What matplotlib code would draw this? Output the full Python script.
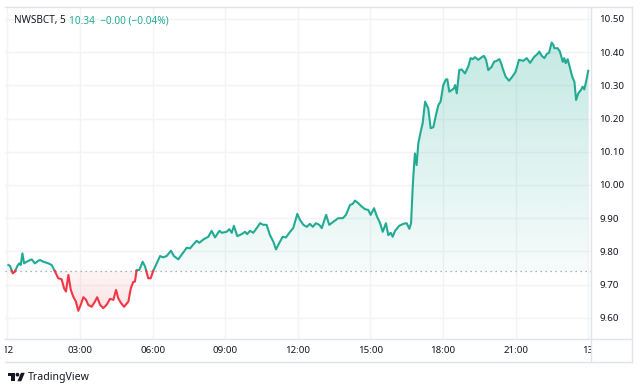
import numpy as np
import matplotlib
matplotlib.use("Agg")
import matplotlib.pyplot as plt
from matplotlib.path import Path
from matplotlib.patches import Polygon, Circle
from matplotlib.lines import Line2D

# ---------------- data ----------------
hours = [0.04, 0.11, 0.22, 0.31, 0.41, 0.49, 0.55, 0.62, 0.69, 0.80, 1.00, 1.14, 1.28, 1.35, 1.48,
         1.69, 1.83, 1.97, 2.10, 2.24, 2.34, 2.42, 2.52, 2.62, 2.72, 2.83, 2.93, 3.03, 3.14, 3.25,
         3.34, 3.48, 3.62, 3.71, 3.83, 3.96, 4.10, 4.24, 4.38, 4.49, 4.58, 4.69, 4.82, 5.00, 5.10,
         5.20, 5.27, 5.34, 5.45, 5.59, 5.69, 5.82, 5.92, 6.03, 6.17, 6.31, 6.44, 6.58, 6.76, 6.88,
         7.06, 7.24, 7.41, 7.55, 7.66, 7.82, 7.93, 8.10, 8.17, 8.30, 8.44, 8.58, 8.76, 8.86, 9.06,
         9.17, 9.27, 9.36, 9.50, 9.68, 9.82, 9.91, 10.02, 10.16, 10.33, 10.44, 10.57, 10.71, 10.85,
         10.99, 11.10, 11.26, 11.38, 11.51, 11.68, 11.81, 11.98, 12.09, 12.23, 12.37, 12.50, 12.62,
         12.75, 12.89, 12.99, 13.17, 13.30, 13.47, 13.67, 13.86, 13.99, 14.16, 14.27, 14.36, 14.50,
         14.64, 14.78, 14.91, 15.01, 15.15, 15.26, 15.40, 15.51, 15.64, 15.74, 15.84, 15.92, 16.02,
         16.19, 16.36, 16.50, 16.61, 16.68, 16.75, 16.80, 16.84, 16.91, 16.98, 17.08, 17.16, 17.26,
         17.39, 17.49, 17.60, 17.71, 17.81, 17.90, 18.01, 18.12, 18.18, 18.26, 18.36, 18.45, 18.50,
         18.57, 18.67, 18.77, 18.91, 19.05, 19.14, 19.23, 19.32, 19.46, 19.60, 19.69, 19.78, 19.87,
         20.01, 20.11, 20.22, 20.33, 20.40, 20.49, 20.59, 20.73, 20.86, 21.00, 21.14, 21.32, 21.46,
         21.60, 21.77, 21.91, 21.98, 22.08, 22.19, 22.29, 22.38, 22.49, 22.56, 22.60, 22.74, 22.83,
         22.95, 23.01, 23.07, 23.15, 23.25, 23.34, 23.43, 23.50, 23.59, 23.70, 23.77, 23.84, 23.94,
         24.00]
prices = [9.759, 9.756, 9.734, 9.739, 9.756, 9.764, 9.759, 9.794, 9.764, 9.769, 9.776, 9.764, 9.772,
          9.774, 9.769, 9.764, 9.759, 9.739, 9.719, 9.716, 9.689, 9.679, 9.729, 9.684, 9.664, 9.649,
          9.621, 9.639, 9.662, 9.654, 9.639, 9.633, 9.649, 9.662, 9.639, 9.629, 9.639, 9.657, 9.654,
          9.684, 9.659, 9.645, 9.633, 9.649, 9.689, 9.708, 9.709, 9.744, 9.744, 9.769, 9.754, 9.719,
          9.719, 9.742, 9.764, 9.786, 9.782, 9.786, 9.802, 9.786, 9.776, 9.794, 9.811, 9.809, 9.819,
          9.832, 9.826, 9.836, 9.839, 9.844, 9.862, 9.842, 9.862, 9.856, 9.859, 9.867, 9.856, 9.877,
          9.846, 9.852, 9.859, 9.852, 9.862, 9.856, 9.873, 9.885, 9.880, 9.880, 9.849, 9.829, 9.806,
          9.829, 9.844, 9.842, 9.859, 9.870, 9.913, 9.895, 9.880, 9.874, 9.883, 9.874, 9.885, 9.880,
          9.870, 9.910, 9.880, 9.889, 9.900, 9.900, 9.910, 9.940, 9.943, 9.953, 9.945, 9.935, 9.927,
          9.925, 9.910, 9.930, 9.907, 9.885, 9.859, 9.885, 9.849, 9.856, 9.844, 9.862, 9.877, 9.883,
          9.885, 9.868, 9.885, 9.995, 10.055, 10.095, 10.060, 10.126, 10.161, 10.186, 10.251, 10.231,
          10.171, 10.174, 10.211, 10.241, 10.251, 10.301, 10.318, 10.318, 10.281, 10.286, 10.291,
          10.301, 10.276, 10.346, 10.348, 10.336, 10.358, 10.382, 10.379, 10.385, 10.377, 10.385,
          10.389, 10.377, 10.346, 10.356, 10.371, 10.374, 10.379, 10.367, 10.346, 10.326, 10.314,
          10.326, 10.341, 10.377, 10.374, 10.382, 10.368, 10.386, 10.395, 10.402, 10.389, 10.382,
          10.395, 10.398, 10.429, 10.422, 10.412, 10.412, 10.402, 10.371, 10.382, 10.367, 10.379,
          10.352, 10.326, 10.311, 10.256, 10.276, 10.286, 10.296, 10.288, 10.321, 10.344]
baseline = 9.741
price_ticks = [9.60, 9.70, 9.80, 9.90, 10.00, 10.10, 10.20, 10.30, 10.40, 10.50]
time_ticks = [0, 3, 6, 9, 12, 15, 18, 21, 24]
time_labels = ["12", "03:00", "06:00", "09:00", "12:00", "15:00", "18:00", "21:00", "13"]
symbol_text = "NWSBCT, 5"
quote_text = "10.34  \u22120.00 (\u22120.04%)"
brand_text = "TradingView"

# ---------------- style ----------------
GREEN = "#22ab94"
RED = "#f23645"
TEXT = "#131722"
GRID = "#f2f3f6"
BORDER = "#e0e3eb"
FONT = ["Noto Sans", "DejaVu Sans"]
plt.rcParams['font.family'] = FONT

W, H = 640, 391
fig = plt.figure(figsize=(W / 100, H / 100), dpi=100)
fig.patch.set_facecolor("white")

def fx(px):
    return px / W

def fy(py):
    return 1 - py / H

L, R, T, B = 5, 590.5, 7.3, 338.5
ax = fig.add_axes([fx(L), fy(B), fx(R) - fx(L), fy(T) - fy(B)])
x0 = (L - 7.4) / 24.2
x1 = (R - 7.4) / 24.2
y0 = 10.5572 - B / 332
y1 = 10.5572 - T / 332

# insert baseline crossing points so colours switch exactly at baseline
t = np.array(hours, dtype=float)
p = np.array(prices, dtype=float)
tt, pp = [t[0]], [p[0]]
for i in range(1, len(t)):
    a, b = p[i - 1] - baseline, p[i] - baseline
    if a * b < 0:
        f = a / (a - b)
        tt.append(t[i - 1] + f * (t[i] - t[i - 1]))
        pp.append(baseline)
    tt.append(t[i])
    pp.append(p[i])
tt = np.array(tt)
pp = np.array(pp)

# gradient fills
def grad_fill(where, ylo, yhi, rgb, a_lo, a_hi):
    poly = ax.fill_between(tt, pp, baseline, where=where, interpolate=True,
                           facecolor="none", edgecolor="none")
    paths = poly.get_paths()
    poly.remove()
    if not paths:
        return
    clip = Path.make_compound_path(*paths)
    g = np.zeros((256, 1, 4))
    g[..., 0], g[..., 1], g[..., 2] = rgb
    g[:, 0, 3] = np.linspace(a_lo, a_hi, 256)
    im = ax.imshow(g, extent=[x0, x1, ylo, yhi], origin="lower", aspect="auto",
                   interpolation="bilinear", zorder=1)
    im.set_clip_path(clip, transform=ax.transData)

grad_fill(pp >= baseline, baseline, y1, (34 / 255, 171 / 255, 148 / 255), 0.04, 0.30)
grad_fill(pp <= baseline, y0, baseline, (242 / 255, 54 / 255, 69 / 255), 0.20, 0.05)

green = np.where(pp >= baseline, pp, np.nan)
red = np.where(pp <= baseline, pp, np.nan)
ax.plot(tt, green, color=GREEN, lw=1.5, zorder=3, solid_joinstyle="round")
ax.plot(tt, red, color=RED, lw=1.5, zorder=3, solid_joinstyle="round")
ax.axhline(baseline, color="#9598a1", lw=0.9, ls=(0, (1, 3)), zorder=2)

ax.set_xlim(x0, x1)
ax.set_ylim(y0, y1)
ax.set_xticks(time_ticks)
ax.set_yticks(price_ticks)
ax.grid(True, color=GRID, lw=1, zorder=0)
ax.set_axisbelow(True)
for s in ax.spines.values():
    s.set_visible(False)
ax.tick_params(axis="x", length=0, labelbottom=False)
ax.yaxis.tick_right()
ax.tick_params(axis="y", length=0, pad=6.3, labelsize=7, labelcolor=TEXT)
ax.set_yticklabels([f"{v:.2f}" for v in price_ticks])

# time axis strip (labels clipped at the pane edges)
tax = fig.add_axes([fx(L), fy(361.5), fx(R) - fx(L), fy(B) - fy(361.5)])
tax.set_xlim(x0, x1)
tax.set_ylim(0, 1)
tax.axis("off")
for tk, lab in zip(time_ticks, time_labels):
    tax.text(tk, 0.48, lab, ha="center", va="center", fontsize=7, color=TEXT, clip_on=True)

# frame lines
for (xa, ya, xb, yb) in [(L, T, 631.7, T), (L, B, 631.7, B), (L, 361.5, 631.7, 361.5),
                         (R, T, R, 361.5), (631.7, T, 631.7, 361.5)]:
    fig.add_artist(Line2D([fx(xa), fx(xb)], [fy(ya), fy(yb)], color=BORDER, lw=1))

# header
fig.text(fx(14.5), fy(21), symbol_text, fontsize=7.2, color=TEXT, va="center", ha="left")
fig.text(fx(69), fy(21), quote_text, fontsize=7.2, color=GREEN, va="center", ha="left")

# brand logo + text
lax = fig.add_axes([fx(8), fy(384.1), 17 / W, 13.2 / H])
lax.set_xlim(0, 36)
lax.set_ylim(28, 0)
lax.axis("off")
lax.add_patch(Polygon([(14, 22), (7, 22), (7, 11), (0, 11), (0, 4), (14, 4)], closed=True,
                      facecolor=TEXT, edgecolor="none"))
lax.add_patch(Circle((20, 8), 4, facecolor=TEXT, edgecolor="none"))
lax.add_patch(Polygon([(28, 22), (20, 22), (27.5, 4), (35.5, 4)], closed=True,
                      facecolor=TEXT, edgecolor="none"))
fig.text(fx(28), fy(377.5), brand_text, fontsize=7.6, color=TEXT, va="center", ha="left")

fig.savefig("out.png", dpi=100, facecolor="white")
